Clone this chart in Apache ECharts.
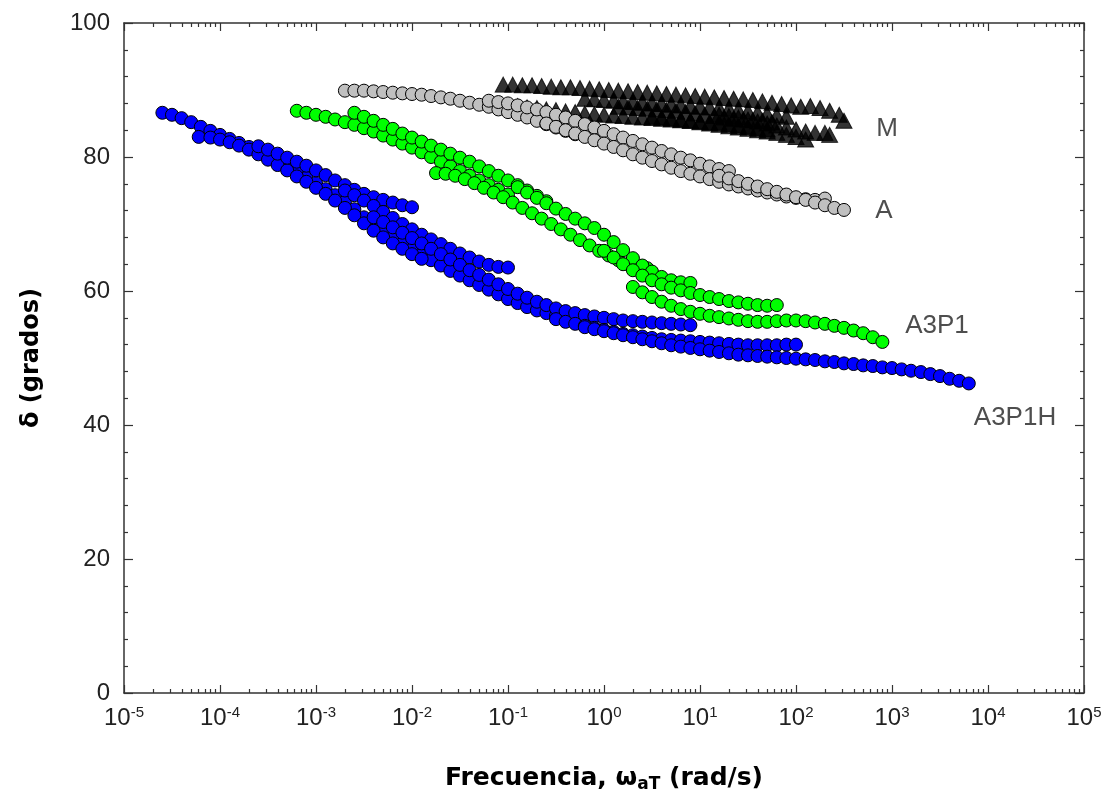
<!DOCTYPE html>
<html><head><meta charset="utf-8">
<script src="https://cdn.jsdelivr.net/npm/echarts@6/dist/echarts.min.js"></script>
<style>html,body{margin:0;padding:0;background:#fff}#c{width:1107px;height:800px}</style>
</head><body><div id="c"></div>
<script>
// ---- axis ticks ----
const xMajorTicks = [1e-5,1e-4,1e-3,1e-2,1e-1,1e0,1e1,1e2,1e3,1e4,1e5];
const xMinorMultipliers = [2,3,4,5,6,7,8,9];
const yTickValues = [0,20,40,60,80,100];

// ---- A3P1H (blue circles), segments [frequency, delta] ----
const a3p1hSeg1 = [[2.51e-5,86.6],[3.16e-5,86.3],[3.98e-5,85.8],[5.01e-5,85.2],[6.31e-5,84.5],[7.94e-5,83.9],[1e-4,83.3],[1.26e-4,82.7],[1.58e-4,82.1],[2e-4,81.5],[2.51e-4,80.8],[3.16e-4,80.0],[3.98e-4,79.2],[5.01e-4,78.4],[6.31e-4,77.7],[7.94e-4,76.9],[1e-3,76.1],[1.26e-3,75.2],[1.58e-3,74.3],[2e-3,73.3],[2.51e-3,72.2],[3.16e-3,71.0],[3.98e-3,69.9],[5.01e-3,68.9],[6.31e-3,68.0],[7.94e-3,67.1],[1e-2,66.2],[1.26e-2,65.4],[1.58e-2,64.6],[2e-2,63.8],[2.51e-2,63.0],[3.16e-2,62.3],[3.98e-2,61.6],[5.01e-2,60.9],[6.31e-2,60.2],[7.94e-2,59.5],[0.1,58.8],[0.126,58.2],[0.158,57.6],[0.2,57.1],[0.251,56.7],[0.316,56.3]];
const a3p1hSeg2 = [[6.0e-5,83.0],[7.94e-5,82.9],[1e-4,82.6],[1.26e-4,82.2],[1.58e-4,81.7],[2e-4,81.1],[2.51e-4,80.4],[3.16e-4,79.6],[3.98e-4,78.8],[5.01e-4,78.0],[6.31e-4,77.1],[7.94e-4,76.3],[1e-3,75.4],[1.26e-3,74.5],[1.58e-3,73.5],[2e-3,72.4],[2.51e-3,71.3],[3.16e-3,70.1],[3.98e-3,69.0],[5.01e-3,68.0],[6.31e-3,67.1],[7.94e-3,66.3],[1e-2,65.5],[1.26e-2,64.8]];
const a3p1hSeg3 = [[2.51e-4,81.6],[3.16e-4,81.1],[3.98e-4,80.5],[5.01e-4,79.9],[6.31e-4,79.3],[7.94e-4,78.7],[1e-3,78.0],[1.26e-3,77.3],[1.58e-3,76.5],[2e-3,75.8],[2.51e-3,75.1],[3.16e-3,74.5],[3.98e-3,74.0],[5.01e-3,73.6],[6.31e-3,73.2],[7.94e-3,72.8],[1e-2,72.5]];
const a3p1hSeg4 = [[2e-3,75.0],[2.51e-3,74.3],[3.16e-3,73.5],[3.98e-3,72.7],[5.01e-3,71.8],[6.31e-3,70.9],[7.94e-3,70.0],[1e-2,69.2],[1.26e-2,68.4],[1.58e-2,67.7],[2e-2,67.0],[2.51e-2,66.3],[3.16e-2,65.6],[3.98e-2,65.0],[5.01e-2,64.4],[6.31e-2,63.9],[7.94e-2,63.6],[0.1,63.5]];
const a3p1hSeg5 = [[3.98e-3,71.0],[5.01e-3,70.3],[6.31e-3,69.5],[7.94e-3,68.7],[1e-2,67.9],[1.26e-2,67.1],[1.58e-2,66.3],[2e-2,65.5],[2.51e-2,64.7],[3.16e-2,63.9],[3.98e-2,63.1],[5.01e-2,62.4],[6.31e-2,61.7],[7.94e-2,61.0],[0.1,60.3],[0.126,59.6],[0.158,59.0],[0.2,58.4],[0.251,57.9],[0.316,57.4],[0.398,57.0],[0.501,56.7],[0.631,56.4],[0.794,56.2],[1,56.0],[1.26,55.8],[1.58,55.6],[2,55.5],[2.51,55.4],[3.16,55.3],[3.98,55.2],[5.01,55.1],[6.31,55.0],[7.94,54.9]];
const a3p1hSeg6 = [[0.316,55.8],[0.398,55.4],[0.501,55.1],[0.631,54.8],[0.794,54.5],[1,54.2],[1.26,53.9],[1.58,53.6],[2,53.4],[2.51,53.2],[3.16,53.0],[3.98,52.8],[5.01,52.7],[6.31,52.6],[7.94,52.5],[10,52.4],[12.6,52.3],[15.8,52.2],[20,52.1],[25.1,52.0],[31.6,51.9],[39.8,51.9],[50.1,51.9],[63.1,51.9],[79.4,52.0],[100,52.0]];
const a3p1hSeg7 = [[0.631,54.6],[0.794,54.3],[1,54.0],[1.26,53.7],[1.58,53.4],[2,53.1],[2.51,52.8],[3.16,52.5],[3.98,52.2],[5.01,51.9],[6.31,51.7],[7.94,51.5],[10,51.3],[12.6,51.1],[15.8,50.9],[20,50.7],[25.1,50.5],[31.6,50.4],[39.8,50.3],[50.1,50.2],[63.1,50.1],[79.4,50.0],[100,49.9],[126,49.8],[158,49.7],[200,49.5],[251,49.4],[316,49.2],[398,49.1],[501,48.9],[631,48.8],[794,48.6],[1000,48.5],[1260,48.3],[1580,48.1],[2000,47.9],[2510,47.6],[3160,47.3],[3980,46.9],[5010,46.6],[6310,46.2]];

// ---- A3P1 (green circles) ----
const a3p1Seg1 = [[6.31e-4,86.9],[7.94e-4,86.6],[1e-3,86.3],[1.26e-3,86.0],[1.58e-3,85.6],[2e-3,85.2],[2.51e-3,84.8],[3.16e-3,84.3],[3.98e-3,83.8],[5.01e-3,83.2],[6.31e-3,82.6],[7.94e-3,82.0],[1e-2,81.4],[1.26e-2,80.7],[1.58e-2,80.0],[2e-2,79.3],[2.51e-2,78.6],[3.16e-2,77.9],[3.98e-2,77.2],[5.01e-2,76.5],[6.31e-2,75.8],[7.94e-2,75.1],[0.1,74.4]];
const a3p1Seg2 = [[2.51e-3,86.6],[3.16e-3,86.0],[3.98e-3,85.4],[5.01e-3,84.8],[6.31e-3,84.2],[7.94e-3,83.5],[1e-2,82.9],[1.26e-2,82.3],[1.58e-2,81.7],[2e-2,81.1],[2.51e-2,80.5],[3.16e-2,79.9],[3.98e-2,79.3],[5.01e-2,78.6],[6.31e-2,77.9],[7.94e-2,77.2],[0.1,76.5],[0.126,75.8],[0.158,75.0],[0.2,74.2],[0.251,73.4]];
const a3p1Seg3 = [[1.78e-2,77.6],[2.24e-2,77.5],[2.82e-2,77.2],[3.55e-2,76.7],[4.47e-2,76.1],[5.62e-2,75.4],[7.08e-2,74.7],[8.91e-2,74.0],[0.112,73.2],[0.141,72.4],[0.178,71.6],[0.224,70.8],[0.282,70.0],[0.355,69.2],[0.447,68.4],[0.562,67.6],[0.708,66.8],[0.891,66.0],[1.12,65.3],[1.41,64.6],[1.78,64.0],[2.24,63.6],[2.82,63.4]];
const a3p1Seg4 = [[0.126,75.5],[0.158,74.7],[0.2,73.9],[0.251,73.1],[0.316,72.3],[0.398,71.5],[0.501,70.8],[0.631,70.1],[0.794,69.4],[1,68.4],[1.26,67.3],[1.58,66.1],[2,64.9],[2.51,63.8],[3.16,62.9],[3.98,62.1],[5.01,61.6],[6.31,61.3],[7.94,61.2]];
const a3p1Seg5 = [[1,66.0],[1.26,65.0],[1.58,64.0],[2,63.1],[2.51,62.3],[3.16,61.6],[3.98,61.0],[5.01,60.5],[6.31,60.1],[7.94,59.7],[10,59.4],[12.6,59.1],[15.8,58.8],[20,58.5],[25.1,58.3],[31.6,58.1],[39.8,57.9],[50.1,57.8],[63.1,57.9]];
const a3p1Seg6 = [[2,60.6],[2.51,59.8],[3.16,59.1],[3.98,58.4],[5.01,57.8],[6.31,57.3],[7.94,56.9],[10,56.6],[12.6,56.3],[15.8,56.1],[20,55.9],[25.1,55.7],[31.6,55.5],[39.8,55.4],[50.1,55.4],[63.1,55.5],[79.4,55.6],[100,55.6],[126,55.5],[158,55.3],[200,55.1],[251,54.8],[316,54.5],[398,54.1],[501,53.7],[631,53.1],[794,52.4]];

// ---- A (gray circles) ----
const aSeg1 = [[2e-3,89.9],[2.51e-3,89.9],[3.16e-3,89.9],[3.98e-3,89.8],[5.01e-3,89.7],[6.31e-3,89.6],[7.94e-3,89.5],[1e-2,89.4],[1.26e-2,89.3],[1.58e-2,89.1],[2e-2,88.9],[2.51e-2,88.7],[3.16e-2,88.4],[3.98e-2,88.1],[5.01e-2,87.8],[6.31e-2,87.5],[7.94e-2,87.1],[0.1,86.7],[0.126,86.3],[0.158,85.9],[0.2,85.4],[0.251,84.9],[0.316,84.4],[0.398,83.9],[0.501,83.4]];
const aSeg2 = [[6.31e-2,88.4],[7.94e-2,88.2],[0.1,88.0],[0.126,87.7],[0.158,87.4],[0.2,87.1],[0.251,86.7],[0.316,86.3],[0.398,85.9],[0.501,85.4],[0.631,84.9],[0.794,84.4],[1,83.9],[1.26,83.4],[1.58,82.9],[2,82.4],[2.51,81.9],[3.16,81.4],[3.98,80.9],[5.01,80.4],[6.31,79.9],[7.94,79.5],[10,79.0],[12.6,78.6],[15.8,78.2],[20,77.9]];
const aSeg3 = [[0.251,85.0],[0.316,84.5],[0.398,84.0],[0.501,83.5],[0.631,83.0],[0.794,82.5],[1,82.0],[1.26,81.5],[1.58,81.0],[2,80.4],[2.51,79.9],[3.16,79.4],[3.98,78.9],[5.01,78.4],[6.31,77.9],[7.94,77.5],[10,77.1],[12.6,76.7],[15.8,76.3],[20,75.9],[25.1,75.6],[31.6,75.3],[39.8,75.0],[50.1,74.7],[63.1,74.4],[79.4,74.1],[100,73.9],[126,73.7],[158,73.6],[200,73.8]];
const aSeg4 = [[15.8,77.2],[20,76.8],[25.1,76.4],[31.6,76.0],[39.8,75.6],[50.1,75.2],[63.1,74.8],[79.4,74.4],[100,74.0],[126,73.6],[158,73.2],[200,72.8],[251,72.4],[316,72.1]];

// ---- M (black triangles) ----
const mSeg1 = [[8.91e-2,90.8],[0.112,90.8],[0.141,90.7],[0.178,90.7],[0.224,90.6],[0.282,90.5],[0.355,90.4],[0.447,90.4],[0.562,90.3],[0.708,90.2],[0.891,90.1],[1.12,90.0],[1.41,89.9],[1.78,89.8],[2.24,89.7],[2.82,89.6],[3.55,89.5],[4.47,89.4],[5.62,89.3],[7.08,89.2],[8.91,89.1],[11.2,89.0],[14.1,88.9],[17.8,88.8],[22.4,88.7],[28.2,88.6],[35.5,88.5],[44.7,88.3],[56.2,88.1],[70.8,87.9],[89.1,87.7],[112,87.5],[141,87.6],[178,87.3],[224,86.9],[282,86.3],[316,85.4]];
const mSeg2 = [[0.126,87.6],[0.158,87.4],[0.2,87.3],[0.251,87.1],[0.316,87.0],[0.398,86.8],[0.501,86.7],[0.631,86.5],[0.794,86.4],[1,86.3],[1.26,86.2],[1.58,86.1],[2,86.0],[2.51,85.9],[3.16,85.8],[3.98,85.7],[5.01,85.6],[6.31,85.5],[7.94,85.4],[10,85.3],[12.6,85.2],[15.8,85.1],[20,84.9],[25.1,84.7],[31.6,84.5],[39.8,84.3],[50.1,84.1]];
const mSeg3 = [[3.16,86.0],[3.98,85.9],[5.01,85.8],[6.31,85.6],[7.94,85.4],[10,85.2],[12.6,85.0],[15.8,84.8],[20,84.6],[25.1,84.4],[31.6,84.2],[39.8,84.0],[50.1,83.8],[63.1,83.6],[79.4,83.3],[100,83.0],[126,82.6]];
const mSeg4 = [[15.8,86.3],[20,86.1],[25.1,85.9],[31.6,85.6],[39.8,85.3],[50.1,85.0],[63.1,84.7],[79.4,84.4],[100,84.1],[126,83.8],[158,83.6],[200,83.6],[224,83.3]];
const mSeg5 = [[0.631,88.7],[0.794,88.6],[1,88.5],[1.26,88.4],[1.58,88.3],[2,88.2],[2.51,88.1],[3.16,88.0],[3.98,87.9],[5.01,87.8],[6.31,87.7],[7.94,87.6],[10,87.5],[12.6,87.4],[15.8,87.3],[20,87.2],[25.1,87.0],[31.6,86.8],[39.8,86.6],[50.1,86.4],[63.1,86.2],[79.4,86.0]];
const mSeg6 = [[1.41,87.5],[1.78,87.4],[2.24,87.3],[2.82,87.2],[3.55,87.1],[4.47,87.0],[5.62,86.9],[7.08,86.7],[8.91,86.5],[11.2,86.3],[14.1,86.1],[17.8,85.9],[22.4,85.7],[28.2,85.6],[35.5,85.5],[44.7,85.4],[56.2,85.2]];

// ---- curve labels (placed in data units) ----
const curveLabels = [
  {name:'M', value:[887, 84.2]},
  {name:'A', value:[826, 72.0]},
  {name:'A3P1', value:[2945, 54.8]},
  {name:'A3P1H', value:[19100, 41.0]}
];

const FONT = 'Liberation Sans, Arial, sans-serif';
const TITLEFONT = 'DejaVu Sans, Liberation Sans, sans-serif';
const AXC = '#333';

const xMinorTicks = [];
for (let i = 0; i < xMajorTicks.length - 1; i++) {
  xMinorMultipliers.forEach(m => xMinorTicks.push(m * xMajorTicks[i]));
}

function logAxis(pos, major, withLabels, extra) {
  return Object.assign({
    type: 'log', logBase: 10, min: 1e-5, max: 1e5, position: pos, gridIndex: 0,
    axisLine: {show: major, lineStyle: {color: AXC, width: 1.5}},
    axisTick: {show: true, inside: true, length: major ? 8 : 4,
      customValues: major ? xMajorTicks : xMinorTicks, lineStyle: {color: AXC, width: 1.2}},
    axisLabel: withLabels ? {
      show: true, customValues: xMajorTicks, margin: 12,
      formatter: v => '{b|10}{s|' + Math.round(Math.log10(v)) + '}',
      rich: {
        b: {fontSize: 24, fontFamily: FONT, color: '#222', lineHeight: 26},
        s: {fontSize: 15, fontFamily: FONT, color: '#222', lineHeight: 15, verticalAlign: 'top'}
      }
    } : {show: false},
    splitLine: {show: false}, minorTick: {show: false}, minorSplitLine: {show: false}
  }, extra || {});
}

const xAxes = [
  logAxis('bottom', true, true, {
    name: '{t|Frecuencia, ω}{sub|aT}{t| (rad/s)}', nameLocation: 'middle', nameGap: 70,
    nameTextStyle: {rich: {
      t: {fontSize: 25, fontWeight: 'bold', fontFamily: TITLEFONT, color: '#000', lineHeight: 30},
      sub: {fontSize: 17, fontWeight: 'bold', fontFamily: TITLEFONT, color: '#000', lineHeight: 17, verticalAlign: 'bottom'}
    }}
  }),
  logAxis('bottom', false, false),
  logAxis('top', true, false),
  logAxis('top', false, false)
];

function valAxis(pos, withLabels, extra) {
  return Object.assign({
    type: 'value', min: 0, max: 100, interval: 20, position: pos,
    axisLine: {show: true, lineStyle: {color: AXC, width: 1.5}},
    axisTick: {show: true, inside: true, length: 9, lineStyle: {color: AXC, width: 1.2}},
    minorTick: {show: true, splitNumber: 5, length: 4, lineStyle: {color: AXC, width: 1.2}},
    axisLabel: withLabels ? {show: true, fontSize: 24, fontFamily: FONT, color: '#222', margin: 14,
      customValues: yTickValues} : {show: false},
    splitLine: {show: false}, minorSplitLine: {show: false}
  }, extra || {});
}

const yAxes = [
  valAxis('left', true, {
    name: 'δ (grados)', nameLocation: 'middle', nameGap: 80,
    nameTextStyle: {fontSize: 24, fontWeight: 'bold', fontFamily: TITLEFONT, color: '#000'}
  }),
  valAxis('right', false)
];

function circleSeries(name, segs, color) {
  return {
    name, type: 'scatter', xAxisIndex: 0, yAxisIndex: 0,
    data: [].concat(...segs), symbol: 'circle', symbolSize: 13,
    itemStyle: {color, borderColor: '#000', borderWidth: 1, opacity: 1},
    emphasis: {disabled: true}
  };
}

const option = {
  animation: false,
  backgroundColor: '#fff',
  grid: {left: 124, right: 23, top: 23, bottom: 107, containLabel: false},
  xAxis: xAxes,
  yAxis: yAxes,
  series: [
    {
      name: 'M', type: 'scatter', xAxisIndex: 0, yAxisIndex: 0,
      data: [].concat(mSeg1, mSeg5, mSeg6, mSeg2, mSeg3, mSeg4),
      symbol: 'triangle', symbolSize: [16, 15],
      itemStyle: {color: '#000', borderColor: '#000', borderWidth: 1},
      emphasis: {disabled: true}
    },
    circleSeries('A', [aSeg1, aSeg2, aSeg3, aSeg4], '#C0C0C0'),
    circleSeries('A3P1', [a3p1Seg1, a3p1Seg2, a3p1Seg3, a3p1Seg4, a3p1Seg5, a3p1Seg6], '#00FF00'),
    circleSeries('A3P1H', [a3p1hSeg1, a3p1hSeg2, a3p1hSeg3, a3p1hSeg4, a3p1hSeg5, a3p1hSeg6, a3p1hSeg7], '#0000FF'),
    {
      name: 'labels', type: 'scatter', xAxisIndex: 0, yAxisIndex: 0,
      data: curveLabels, symbol: 'circle', symbolSize: 0,
      itemStyle: {color: 'rgba(0,0,0,0)'},
      label: {show: true, position: 'inside', formatter: '{b}', fontSize: 26, fontFamily: FONT, color: '#222'},
      emphasis: {disabled: true}, silent: true, z: 5
    }
  ]
};

const chart = echarts.init(document.getElementById('c'), null, {renderer: 'canvas'});
chart.setOption(option);
</script>
</body></html>
